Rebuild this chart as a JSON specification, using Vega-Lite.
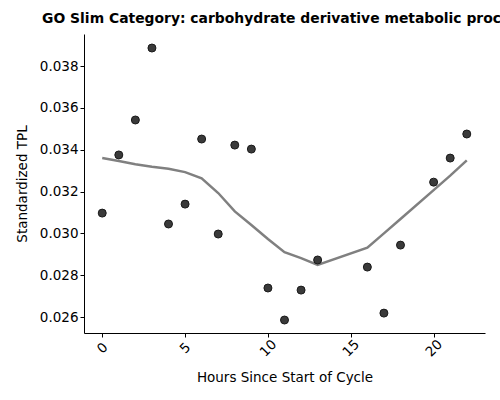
{
  "$schema": "https://vega.github.io/schema/vega-lite/v6.json",
  "autosize": "none",
  "width": 401,
  "height": 299,
  "padding": {"left": 84, "top": 34, "right": 15, "bottom": 67},
  "background": "white",
  "config": {
    "font": "DejaVu Sans",
    "view": {"stroke": null},
    "axis": {"grid": false, "domainColor": "black", "tickColor": "black", "labelColor": "black", "titleColor": "black", "labelFont": "DejaVu Sans", "titleFont": "DejaVu Sans", "labelFontSize": 13.5, "titleFontSize": 13.5, "titleFontWeight": "normal", "tickSize": 4, "domainWidth": 1, "tickWidth": 1}
  },
  "title": {"text": "GO Slim Category: carbohydrate derivative metabolic process", "font": "DejaVu Sans", "fontSize": 13.9, "fontWeight": "bold", "color": "black", "anchor": "middle", "offset": 8},
  "datasets": {
    "points": [
      {"hour": 0, "tpl": 0.03097},
      {"hour": 1, "tpl": 0.03375},
      {"hour": 2, "tpl": 0.03542},
      {"hour": 3, "tpl": 0.03886},
      {"hour": 4, "tpl": 0.03045},
      {"hour": 5, "tpl": 0.03140},
      {"hour": 6, "tpl": 0.03451},
      {"hour": 7, "tpl": 0.02997},
      {"hour": 8, "tpl": 0.03422},
      {"hour": 9, "tpl": 0.03403},
      {"hour": 10, "tpl": 0.02739},
      {"hour": 11, "tpl": 0.02586},
      {"hour": 12, "tpl": 0.02729},
      {"hour": 13, "tpl": 0.02873},
      {"hour": 16, "tpl": 0.02839},
      {"hour": 17, "tpl": 0.02619},
      {"hour": 18, "tpl": 0.02944},
      {"hour": 20, "tpl": 0.03245},
      {"hour": 21, "tpl": 0.03360},
      {"hour": 22, "tpl": 0.03475}
    ],
    "trend": [
      {"hour": 0, "fit": 0.03360},
      {"hour": 1, "fit": 0.03346},
      {"hour": 2, "fit": 0.03331},
      {"hour": 3, "fit": 0.03319},
      {"hour": 4, "fit": 0.03309},
      {"hour": 5, "fit": 0.03293},
      {"hour": 6, "fit": 0.03263},
      {"hour": 7, "fit": 0.03193},
      {"hour": 8, "fit": 0.03105},
      {"hour": 9, "fit": 0.03040},
      {"hour": 10, "fit": 0.02973},
      {"hour": 11, "fit": 0.02910},
      {"hour": 12, "fit": 0.02882},
      {"hour": 13, "fit": 0.02849},
      {"hour": 16, "fit": 0.02932},
      {"hour": 17, "fit": 0.03000},
      {"hour": 18, "fit": 0.03069},
      {"hour": 20, "fit": 0.03207},
      {"hour": 21, "fit": 0.03276},
      {"hour": 22, "fit": 0.03349}
    ]
  },
  "encoding": {
    "x": {"field": "hour", "type": "quantitative", "title": "Hours Since Start of Cycle",
      "scale": {"domain": [-1.1, 23.1], "nice": false, "zero": false},
      "axis": {"values": [0, 5, 10, 15, 20], "labelAngle": -45, "labelAlign": "center", "labelBaseline": "middle", "labelPadding": 11, "titlePadding": 12}}
  },
  "layer": [
    {
      "data": {"name": "trend"},
      "mark": {"type": "line", "color": "#808080", "strokeWidth": 2.5},
      "encoding": {
        "y": {"field": "fit", "type": "quantitative", "title": "Standardized TPL",
          "scale": {"domain": [0.02524, 0.03953], "nice": false, "zero": false},
          "axis": {"values": [0.026, 0.028, 0.030, 0.032, 0.034, 0.036, 0.038], "format": ".3f", "titlePadding": 10}}
      }
    },
    {
      "data": {"name": "points"},
      "mark": {"type": "circle", "size": 64, "color": "#3a3a3a", "opacity": 1, "stroke": "#1a1a1a", "strokeWidth": 1},
      "encoding": {
        "y": {"field": "tpl", "type": "quantitative"}
      }
    }
  ]
}
